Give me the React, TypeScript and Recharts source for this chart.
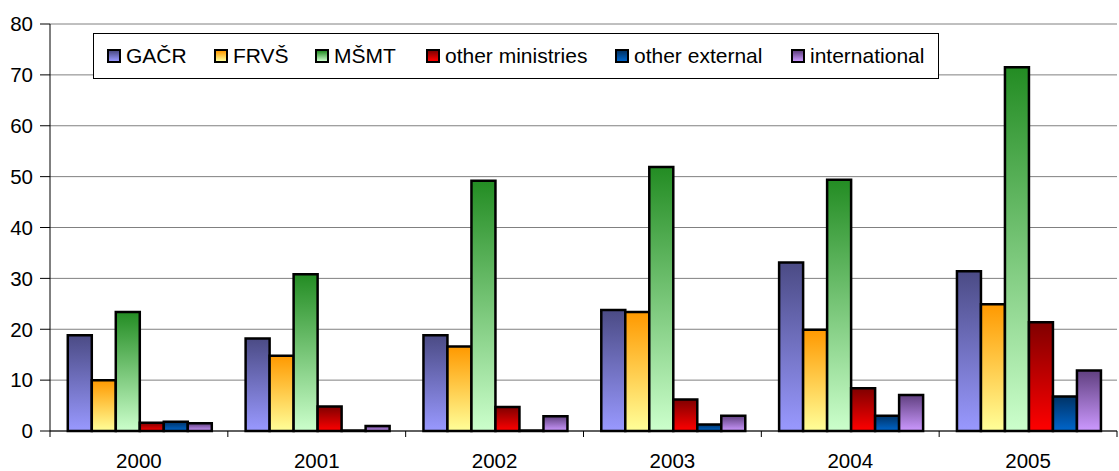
import { BarChart, Bar, XAxis, YAxis, CartesianGrid, Legend } from 'recharts';

const YEARS = ['2000', '2001', '2002', '2003', '2004', '2005'];
const GACR = [18.8, 18.2, 18.8, 23.8, 33.1, 31.4];
const FRVS = [10.0, 14.8, 16.6, 23.4, 19.9, 24.9];
const MSMT = [23.4, 30.8, 49.2, 51.9, 49.4, 71.5];
const OTHER_MIN = [1.6, 4.8, 4.7, 6.2, 8.4, 21.4];
const OTHER_EXT = [1.8, 0.1, 0.1, 1.3, 3.0, 6.8];
const INTL = [1.5, 1.0, 2.9, 3.0, 7.1, 11.9];
const Y_TICKS = [0, 10, 20, 30, 40, 50, 60, 70, 80];

const SERIES = [
    { key: 'gacr', name: 'GAČR', values: GACR, top: '#4b4b85', bottom: '#9999ff' },
    { key: 'frvs', name: 'FRVŠ', values: FRVS, top: '#ff9900', bottom: '#ffff99' },
    { key: 'msmt', name: 'MŠMT', values: MSMT, top: '#238c23', bottom: '#ccffcc' },
    { key: 'othMin', name: 'other ministries', values: OTHER_MIN, top: '#800000', bottom: '#ff0000' },
    { key: 'othExt', name: 'other external', values: OTHER_EXT, top: '#003366', bottom: '#0066cc' },
    { key: 'intl', name: 'international', values: INTL, top: '#604080', bottom: '#cc99ff' },
];

const data = YEARS.map((year, i) => {
    const row: Record<string, string | number> = { year };
    SERIES.forEach(s => { row[s.key] = s.values[i]; });
    return row;
});

const FONT = '"Liberation Sans", Arial, sans-serif';

function YearTick(props: any) {
    const { x, y, payload, index } = props;
    const half = payload.offset ?? 0;
    return (
        <g>
            {index === 0 && <line x1={x - half} y1={y - 8} x2={x - half} y2={y - 2} stroke="#000" />}
            <line x1={x + half} y1={y - 8} x2={x + half} y2={y - 2} stroke="#000" />
            <text x={x} y={y + 29} textAnchor="middle" fontSize={20.5} fill="#000" fontFamily={FONT}>
                {payload.value}
            </text>
        </g>
    );
}

function BoxLegend() {
    const pos = [107, 214, 315, 426, 615, 791];
    return (
        <div style={{
            position: 'absolute', left: 93, top: 33, width: 846, height: 46,
            border: '1px solid #000', background: '#fff', fontFamily: FONT, fontSize: 21,
            boxSizing: 'border-box',
        }}>
            {SERIES.map((s, i) => (
                <div key={s.key} style={{ position: 'absolute', left: pos[i] - 94, top: 9, height: 26, display: 'flex', alignItems: 'center', whiteSpace: 'nowrap' }}>
                    <span style={{
                        display: 'inline-block', width: 10, height: 10, border: '2px solid #000',
                        background: `linear-gradient(${s.top}, ${s.bottom})`, marginRight: 5,
                    }} />
                    <span>{s.name}</span>
                </div>
            ))}
        </div>
    );
}

export default function App() {
    return (
        <div style={{ position: 'absolute', left: 0, top: 0, width: 1119, height: 471, background: '#fff' }}>
            <BarChart
                width={1119}
                height={471}
                data={data}
                margin={{ top: 24, right: 2, bottom: 0, left: 0 }}
                barCategoryGap="10%"
                barGap={0}
            >
                <defs>
                    {SERIES.map(s => (
                        <linearGradient key={s.key} id={`grad-${s.key}`} x1="0" y1="0" x2="0" y2="1">
                            <stop offset="0%" stopColor={s.top} />
                            <stop offset="100%" stopColor={s.bottom} />
                        </linearGradient>
                    ))}
                </defs>
                <CartesianGrid vertical={false} stroke="#808080" />
                <XAxis
                    dataKey="year"
                    height={40}
                    axisLine={{ stroke: '#000' }}
                    tickLine={false}
                    tick={<YearTick />}
                    interval={0}
                />
                <YAxis
                    width={50}
                    domain={[0, 80]}
                    ticks={Y_TICKS}
                    axisLine={{ stroke: '#000' }}
                    tickLine={{ stroke: '#000' }}
                    tickSize={10}
                    tickMargin={7}
                    tick={{ fontSize: 20.5, fill: '#000', fontFamily: FONT }}
                    interval={0}
                />
                <Legend content={<BoxLegend />} wrapperStyle={{ position: 'absolute', left: 0, top: 0, width: 0, height: 0 }} />
                {SERIES.map(s => (
                    <Bar
                        key={s.key}
                        dataKey={s.key}
                        name={s.name}
                        fill={`url(#grad-${s.key})`}
                        stroke="#000"
                        strokeWidth={2.5}
                        isAnimationActive={false}
                    />
                ))}
            </BarChart>
        </div>
    );
}
